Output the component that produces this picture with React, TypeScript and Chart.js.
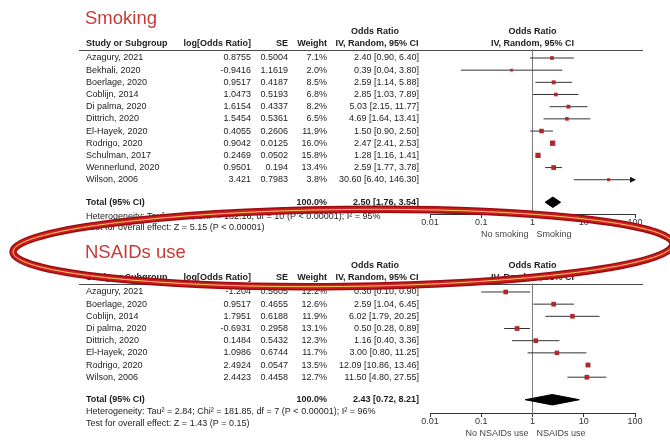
import React, { useEffect, useRef } from "react";
import { Chart, registerables } from "chart.js";

Chart.register(...registerables);

const FONT = "'Liberation Sans', Arial, Helvetica, sans-serif";

// ---- Smoking subgroup ----
const smokingStudies = [
  "Azagury, 2021", "Bekhali, 2020", "Boerlage, 2020", "Coblijn, 2014", "Di palma, 2020",
  "Dittrich, 2020", "El-Hayek, 2020", "Rodrigo, 2020", "Schulman, 2017", "Wennerlund, 2020", "Wilson, 2006",
];
const smokingLogOR = [0.8755, -0.9416, 0.9517, 1.0473, 1.6154, 1.5454, 0.4055, 0.9042, 0.2469, 0.9501, 3.421];
const smokingSE = [0.5004, 1.1619, 0.4187, 0.5193, 0.4337, 0.5361, 0.2606, 0.0125, 0.0502, 0.194, 0.7983];
const smokingWeight = [7.1, 2.0, 8.5, 6.8, 8.2, 6.5, 11.9, 16.0, 15.8, 13.4, 3.8];
const smokingOR = [2.40, 0.39, 2.59, 2.85, 5.03, 4.69, 1.50, 2.47, 1.28, 2.59, 30.60];
const smokingLow = [0.90, 0.04, 1.14, 1.03, 2.15, 1.64, 0.90, 2.41, 1.16, 1.77, 6.40];
const smokingHigh = [6.40, 3.80, 5.88, 7.89, 11.77, 13.41, 2.50, 2.53, 1.41, 3.78, 146.30];
const smokingTotal = [2.50, 1.76, 3.54];
const smokingHeterogeneity = "Heterogeneity: Tau\u00b2 = 0.22; Chi\u00b2 = 182.16, df = 10 (P < 0.00001); I\u00b2 = 95%";
const smokingOverall = "Test for overall effect: Z = 5.15 (P < 0.00001)";

// ---- NSAIDs subgroup ----
const nsaidStudies = [
  "Azagury, 2021", "Boerlage, 2020", "Coblijn, 2014", "Di palma, 2020",
  "Dittrich, 2020", "El-Hayek, 2020", "Rodrigo, 2020", "Wilson, 2006",
];
const nsaidLogOR = [-1.204, 0.9517, 1.7951, -0.6931, 0.1484, 1.0986, 2.4924, 2.4423];
const nsaidSE = [0.5605, 0.4655, 0.6188, 0.2958, 0.5432, 0.6744, 0.0547, 0.4458];
const nsaidWeight = [12.2, 12.6, 11.9, 13.1, 12.3, 11.7, 13.5, 12.7];
const nsaidOR = [0.30, 2.59, 6.02, 0.50, 1.16, 3.00, 12.09, 11.50];
const nsaidLow = [0.10, 1.04, 1.79, 0.28, 0.40, 0.80, 10.86, 4.80];
const nsaidHigh = [0.90, 6.45, 20.25, 0.89, 3.36, 11.25, 13.46, 27.55];
const nsaidTotal = [2.43, 0.72, 8.21];
const nsaidHeterogeneity = "Heterogeneity: Tau\u00b2 = 2.84; Chi\u00b2 = 181.85, df = 7 (P < 0.00001); I\u00b2 = 96%";
const nsaidOverall = "Test for overall effect: Z = 1.43 (P = 0.15)";

const axisTicks = [0.01, 0.1, 1, 10, 100];

type Panel = {
  title: string;
  favoursLeft: string;
  favoursRight: string;
  studies: string[];
  logOR: number[];
  se: number[];
  weight: number[];
  or: number[];
  low: number[];
  high: number[];
  total: number[];
  heterogeneity: string;
  overall: string;
  firstRow: number;
  totalGap: number;
  hetGap: number;
  testGap: number;
  axisGap: number;
};

const panels: Panel[] = [
  {
    title: "Smoking", favoursLeft: "No smoking", favoursRight: "Smoking",
    studies: smokingStudies, logOR: smokingLogOR, se: smokingSE, weight: smokingWeight,
    or: smokingOR, low: smokingLow, high: smokingHigh, total: smokingTotal,
    heterogeneity: smokingHeterogeneity, overall: smokingOverall,
    firstRow: 0, totalGap: 1.85, hetGap: 1.2, testGap: 2.1, axisGap: 0.97,
  },
  {
    title: "NSAIDs use", favoursLeft: "No NSAIDs use", favoursRight: "NSAIDs use",
    studies: nsaidStudies, logOR: nsaidLogOR, se: nsaidSE, weight: nsaidWeight,
    or: nsaidOR, low: nsaidLow, high: nsaidHigh, total: nsaidTotal,
    heterogeneity: nsaidHeterogeneity, overall: nsaidOverall,
    firstRow: 19.22, totalGap: 1.85, hetGap: 0.96, testGap: 1.93, axisGap: 1.12,
  },
];

// Vertical layout in row units (one row = one study line)
const Y_MIN = -4.435;
const Y_MAX = 31.05;
const TITLE_OFF = -3.24;
const OR_HEAD_OFF = -2.2;
const HEAD_OFF = -1.15;
const RULE_OFF = -0.68;
const DIAMOND_HALF = 0.43;

// Table columns (px)
const COL_STUDY = 86;
const COL_LOGOR = 251;
const COL_SE = 288;
const COL_WEIGHT = 327;
const COL_CI = 419;
const COL_CI_HEAD = 377;
const RULE_FROM = 79;
const RULE_TO = 643;

const rowY = (p: Panel, i: number) => p.firstRow + i;
const totalY = (p: Panel) => p.firstRow + p.studies.length - 1 + p.totalGap;
const axisY = (p: Panel) => totalY(p) + p.axisGap;
const fmtCI = (o: number, l: number, h: number) => `${o.toFixed(2)} [${l.toFixed(2)}, ${h.toFixed(2)}]`;
const squareRadius = (w: number) => (2.4 + w * 0.18) / Math.SQRT2;

const TEXT = "#1c1c1c";
const TITLE_RED = "#c63c37";
const MARK_RED = "#b0282a";

function put(ctx: CanvasRenderingContext2D, s: string, x: number, y: number, align: CanvasTextAlign, font: string, color = TEXT) {
  ctx.font = font;
  ctx.fillStyle = color;
  ctx.textAlign = align;
  ctx.textBaseline = "middle";
  ctx.fillText(s, x, y);
}

const tablePlugin = {
  id: "forestTable",
  beforeDatasetsDraw(chart: any) {
    const ctx: CanvasRenderingContext2D = chart.ctx;
    const ys = chart.scales.y;
    const xs = chart.scales.xBot;
    const nullPx = xs.getPixelForValue(1);
    const reg = `9px ${FONT}`;
    const bold = `bold 9px ${FONT}`;
    ctx.save();
    for (const p of panels) {
      const py = (v: number) => ys.getPixelForValue(v);
      put(ctx, p.title, COL_STUDY - 1, py(p.firstRow + TITLE_OFF), "left", `18.5px ${FONT}`, TITLE_RED);

      put(ctx, "Odds Ratio", COL_CI_HEAD - 2, py(p.firstRow + OR_HEAD_OFF), "center", bold);
      put(ctx, "Odds Ratio", nullPx, py(p.firstRow + OR_HEAD_OFF), "center", bold);
      const hy = py(p.firstRow + HEAD_OFF);
      put(ctx, "Study or Subgroup", COL_STUDY, hy, "left", bold);
      put(ctx, "log[Odds Ratio]", COL_LOGOR, hy, "right", bold);
      put(ctx, "SE", COL_SE, hy, "right", bold);
      put(ctx, "Weight", COL_WEIGHT, hy, "right", bold);
      put(ctx, "IV, Random, 95% CI", COL_CI_HEAD, hy, "center", bold);
      put(ctx, "IV, Random, 95% CI", nullPx, hy, "center", bold);

      const ry = Math.round(py(p.firstRow + RULE_OFF)) + 0.5;
      ctx.strokeStyle = "#4a4a4a";
      ctx.lineWidth = 1;
      ctx.beginPath();
      ctx.moveTo(RULE_FROM, ry);
      ctx.lineTo(RULE_TO, ry);
      ctx.stroke();

      p.studies.forEach((s, i) => {
        const y = py(rowY(p, i));
        put(ctx, s, COL_STUDY, y, "left", reg);
        put(ctx, String(p.logOR[i]), COL_LOGOR, y, "right", reg);
        put(ctx, String(p.se[i]), COL_SE, y, "right", reg);
        put(ctx, `${p.weight[i].toFixed(1)}%`, COL_WEIGHT, y, "right", reg);
        put(ctx, fmtCI(p.or[i], p.low[i], p.high[i]), COL_CI, y, "right", reg);
      });

      const ty = py(totalY(p));
      put(ctx, "Total (95% CI)", COL_STUDY, ty, "left", bold);
      put(ctx, "100.0%", COL_WEIGHT, ty, "right", bold);
      put(ctx, fmtCI(p.total[0], p.total[1], p.total[2]), COL_CI, ty, "right", bold);
      put(ctx, p.heterogeneity, COL_STUDY, py(totalY(p) + p.hetGap), "left", reg);
      put(ctx, p.overall, COL_STUDY, py(totalY(p) + p.testGap), "left", reg);

      const ay = py(axisY(p)) + 20;
      put(ctx, p.favoursLeft, nullPx - 4, ay, "right", reg, "#444");
      put(ctx, p.favoursRight, nullPx + 4, ay, "left", reg, "#444");
    }
    ctx.restore();
  },
  afterDatasetsDraw(chart: any) {
    // arrowheads for intervals running past the axis limit
    const ctx: CanvasRenderingContext2D = chart.ctx;
    const ys = chart.scales.y;
    const xs = chart.scales.xBot;
    ctx.save();
    ctx.fillStyle = "#111";
    for (const p of panels) {
      p.high.forEach((h, i) => {
        if (h > xs.max) {
          const x = xs.getPixelForValue(xs.max) + 1;
          const y = ys.getPixelForValue(rowY(p, i));
          ctx.beginPath();
          ctx.moveTo(x, y);
          ctx.lineTo(x - 6, y - 3);
          ctx.lineTo(x - 6, y + 3);
          ctx.closePath();
          ctx.fill();
        }
      });
    }
    ctx.restore();
  },
};

// Hand-drawn emphasis ring around the second subgroup heading
const RING = { cx: 343, cy: 248, rx: 330, ry: 38.5, rot: -0.012 };
const ringPlugin = {
  id: "emphasisRing",
  afterDraw(chart: any) {
    const ctx: CanvasRenderingContext2D = chart.ctx;
    ctx.save();
    const path = () => {
      ctx.beginPath();
      ctx.ellipse(RING.cx, RING.cy, RING.rx, RING.ry, RING.rot, 0, Math.PI * 2);
    };
    path(); ctx.strokeStyle = "#9c0c12"; ctx.lineWidth = 7.5; ctx.stroke();
    path(); ctx.strokeStyle = "#cc1d1f"; ctx.lineWidth = 4.5; ctx.stroke();
    path(); ctx.strokeStyle = "#f4cd66"; ctx.lineWidth = 1; ctx.stroke();
    ctx.restore();
  },
};

const logAxis = (yPos: number) => ({
  type: "logarithmic",
  min: 0.01,
  max: 100,
  position: { y: yPos },
  afterBuildTicks: (s: any) => {
    s.ticks = axisTicks.map((v) => ({ value: v }));
  },
  afterFit: (s: any) => {
    s.height = 0;
  },
  ticks: {
    autoSkip: false,
    maxRotation: 0,
    padding: 0,
    color: "#333",
    font: { family: FONT, size: 9 },
    callback: (v: any) => String(v),
  },
  grid: { drawOnChartArea: false, drawTicks: true, tickLength: 3, color: "#333" },
  border: { display: true, color: "#333", width: 1 },
});

export default function App() {
  const ref = useRef<HTMLCanvasElement>(null);

  useEffect(() => {
    const squares = panels.flatMap((p) => p.or.map((v, i) => ({ x: v, y: rowY(p, i) })));
    const radii = panels.flatMap((p) => p.weight.map(squareRadius));
    const whiskers = panels.flatMap((p) =>
      p.low.flatMap((lo, i) => [
        { x: lo, y: rowY(p, i) },
        { x: p.high[i], y: rowY(p, i) },
        { x: null, y: null },
      ])
    );
    const nullLines = panels.flatMap((p) => [
      { x: 1, y: p.firstRow + RULE_OFF },
      { x: 1, y: axisY(p) },
      { x: null, y: null },
    ]);
    const diamonds = panels.map((p) => {
      const t = totalY(p);
      const [est, lo, hi] = p.total;
      return {
        type: "line",
        data: [
          { x: lo, y: t },
          { x: est, y: t - DIAMOND_HALF },
          { x: hi, y: t },
          { x: est, y: t + DIAMOND_HALF },
          { x: lo, y: t },
        ],
        borderColor: "#000",
        borderWidth: 1,
        backgroundColor: "#000",
        fill: "shape",
        pointRadius: 0,
        tension: 0,
        xAxisID: "xBot",
        yAxisID: "y",
      };
    });

    const chart = new Chart(ref.current as HTMLCanvasElement, {
      type: "line",
      data: {
        datasets: [
          {
            type: "scatter",
            data: squares,
            pointStyle: "rect",
            pointRadius: radii,
            backgroundColor: MARK_RED,
            borderColor: MARK_RED,
            borderWidth: 0,
            xAxisID: "xBot",
            yAxisID: "y",
          },
          {
            type: "line",
            data: whiskers,
            borderColor: "#333",
            borderWidth: 1,
            pointRadius: 0,
            spanGaps: false,
            fill: false,
            xAxisID: "xBot",
            yAxisID: "y",
          },
          ...diamonds,
          {
            type: "line",
            data: nullLines,
            borderColor: "#7a7a7a",
            borderWidth: 1,
            pointRadius: 0,
            spanGaps: false,
            fill: false,
            xAxisID: "xBot",
            yAxisID: "y",
          },
        ] as any,
      },
      options: {
        responsive: false,
        animation: false,
        devicePixelRatio: 1,
        layout: { padding: { left: 430, right: 35, top: 0, bottom: 0 } },
        plugins: { legend: { display: false }, tooltip: { enabled: false } },
        events: [],
        scales: {
          y: { type: "linear", min: Y_MIN, max: Y_MAX, reverse: true, display: false },
          xTop: logAxis(totalY(panels[0]) + panels[0].axisGap),
          xBot: logAxis(totalY(panels[1]) + panels[1].axisGap),
        } as any,
      },
      plugins: [tablePlugin, ringPlugin],
    } as any);
    return () => chart.destroy();
  }, []);

  return (
    <div style={{ position: "absolute", left: 0, top: 0, width: 670, height: 440, background: "#fff" }}>
      <canvas ref={ref} width={670} height={440} style={{ display: "block" }} />
    </div>
  );
}
